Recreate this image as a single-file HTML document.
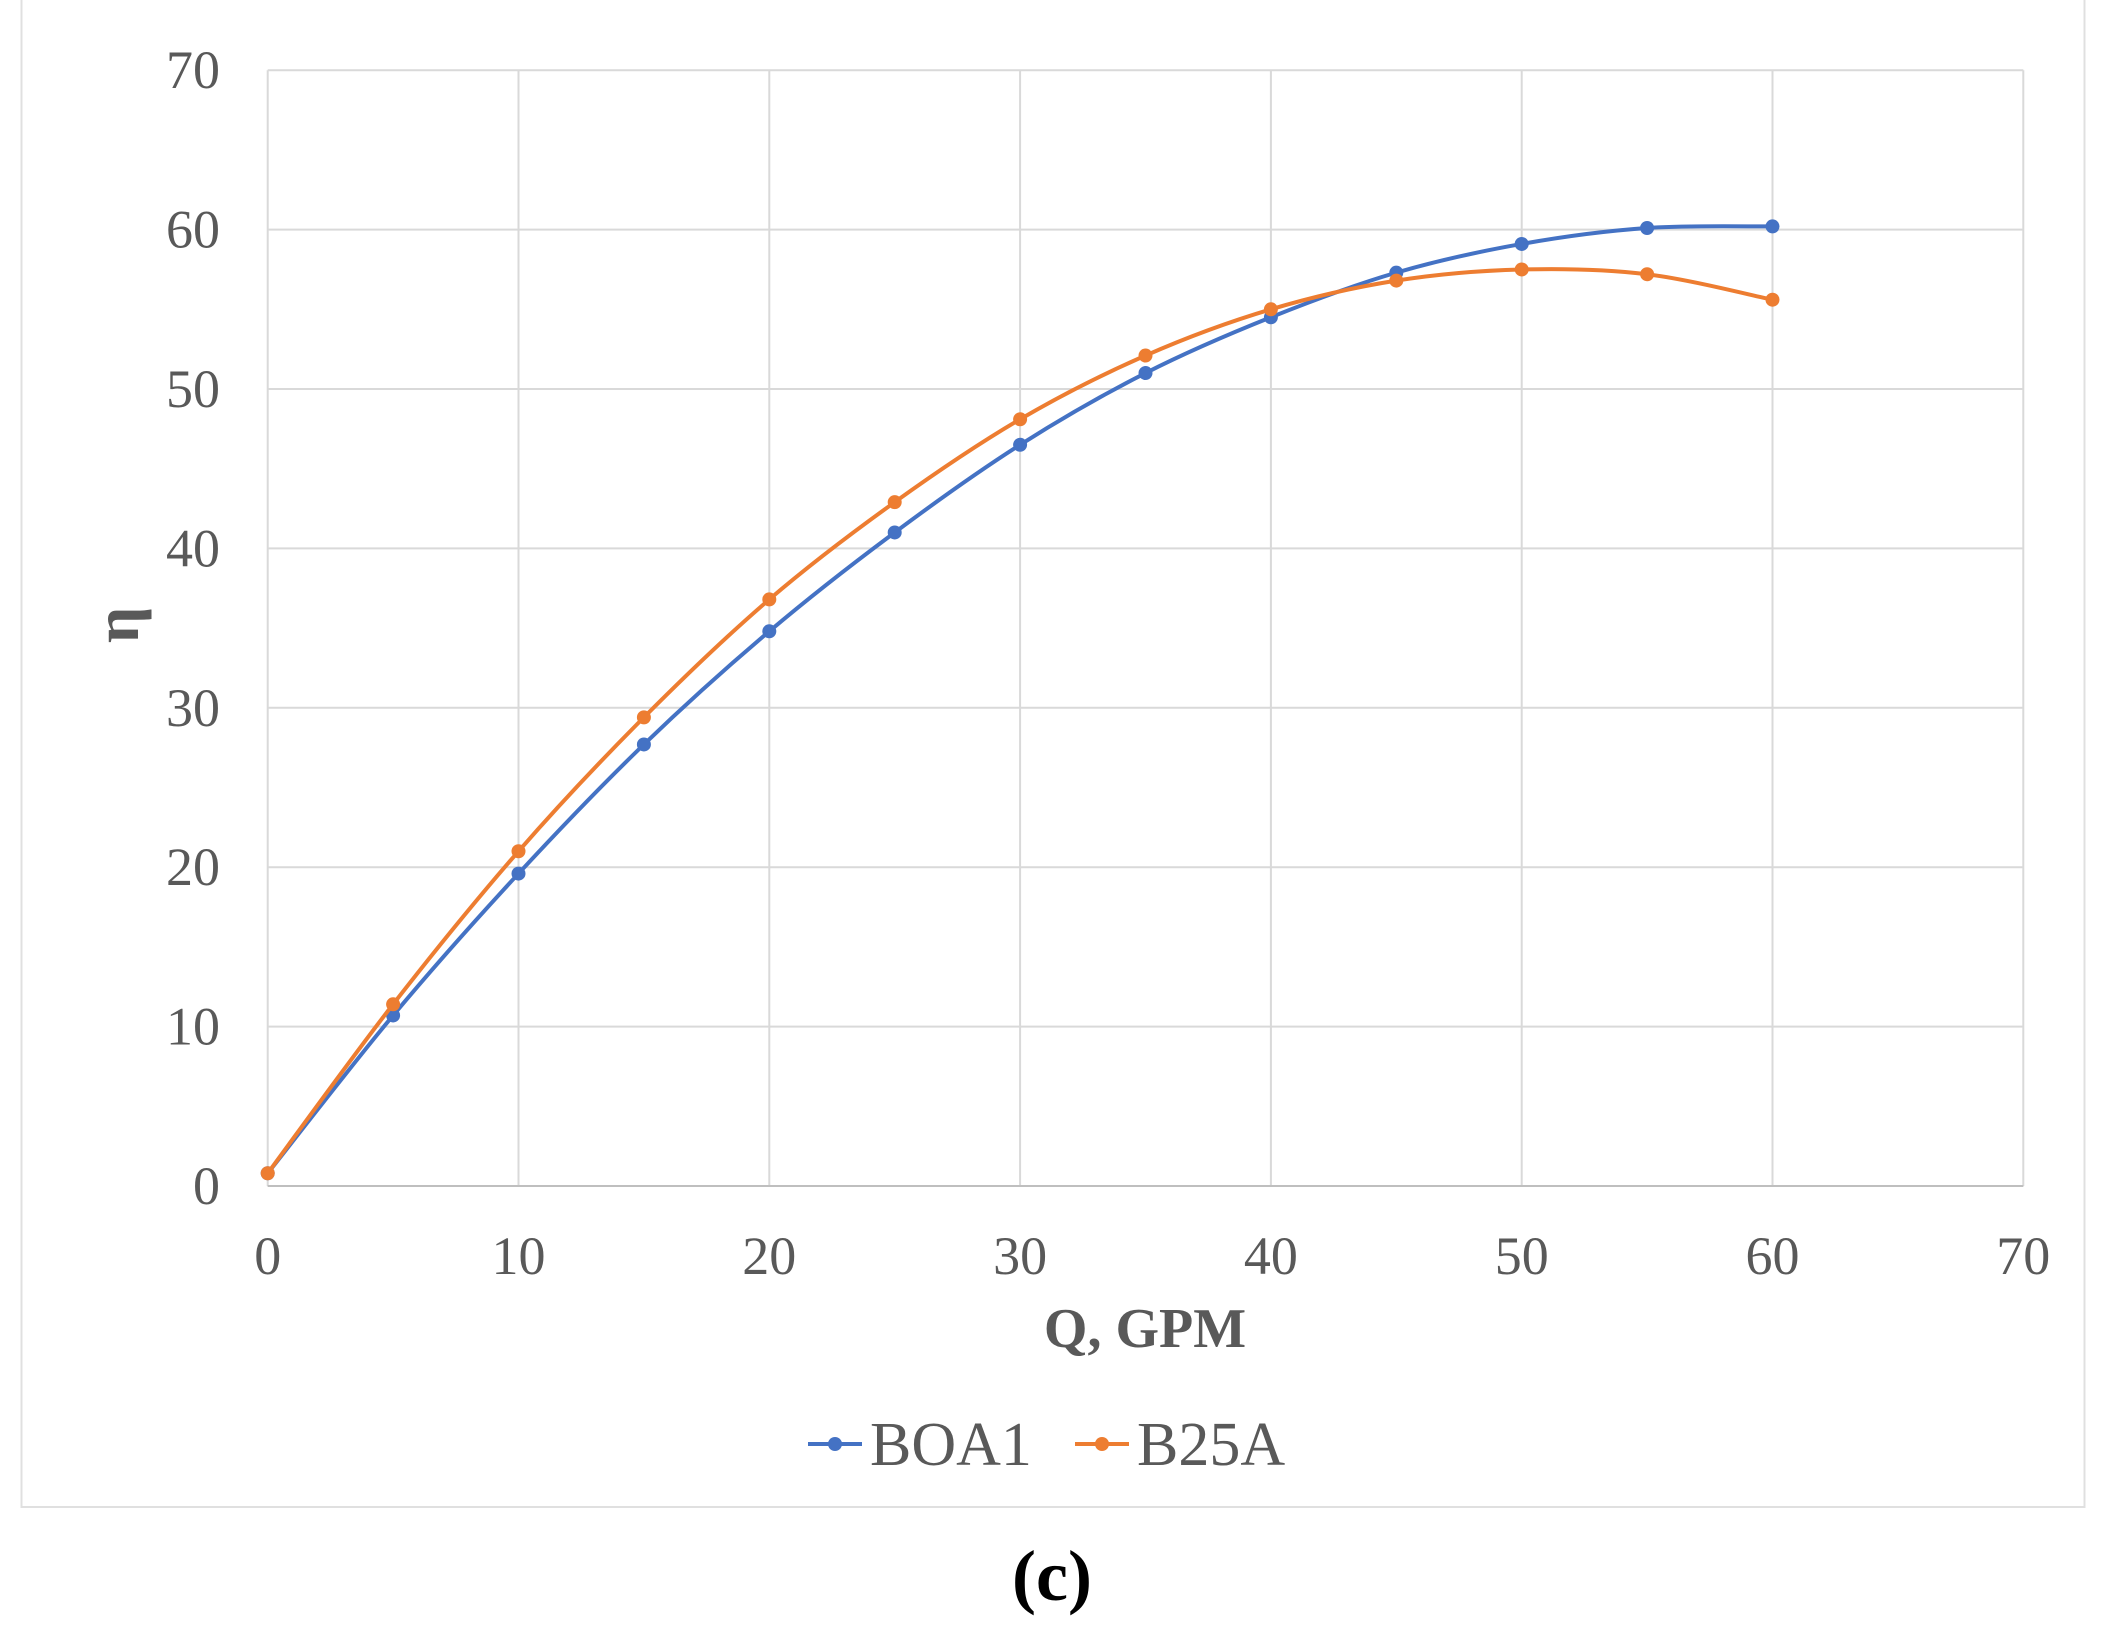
<!DOCTYPE html>
<html><head><meta charset="utf-8"><style>
html,body{margin:0;padding:0;background:#fff;width:2109px;height:1630px;overflow:hidden}
</style></head><body>
<svg id="s" width="2109" height="1630" xmlns="http://www.w3.org/2000/svg" font-family="Liberation Serif, serif">
<rect x="21.5" y="-2" width="2063" height="1509" fill="#fff" stroke="#e0e0e0" stroke-width="2"/>
<g id="grid" stroke="#d9d9d9" stroke-width="2"></g>
<g id="ticks" fill="#595959" font-size="54"></g>
<text x="1145" y="1347" text-anchor="middle" font-size="56" font-weight="bold" fill="#595959">Q, GPM</text>
<text transform="translate(138,625) rotate(-90)" text-anchor="middle" font-size="64" font-weight="bold" fill="#595959">η</text>
<g id="series"></g>
<g font-size="62" fill="#595959">
<line x1="808" y1="1444" x2="862" y2="1444" stroke="#4472c4" stroke-width="4"/><circle cx="835" cy="1444" r="7" fill="#4472c4"/>
<text x="870" y="1465">BOA1</text>
<line x1="1075" y1="1444" x2="1129" y2="1444" stroke="#ed7d31" stroke-width="4"/><circle cx="1102" cy="1444" r="7" fill="#ed7d31"/>
<text x="1137" y="1465">B25A</text>
</g>
<text x="1052" y="1600" text-anchor="middle" font-size="72" font-weight="bold" fill="#000">(c)</text>
</svg>
<script>
var NS="http://www.w3.org/2000/svg";
function X(v){return 267.7+v*25.08}function Y(v){return 1186-v*15.94}
function el(t,a,p){var e=document.createElementNS(NS,t);for(var k in a)e.setAttribute(k,a[k]);p.appendChild(e);return e}
var g=document.getElementById('grid'),tk=document.getElementById('ticks');
for(var i=0;i<=70;i+=10){
 el('line',{x1:X(i),x2:X(i),y1:Y(70),y2:Y(0)},g);
 el('line',{x1:X(0),x2:X(70),y1:Y(i),y2:Y(i)},g);
 var t=el('text',{x:X(i),y:1274,'text-anchor':'middle'},tk);t.textContent=i;
 var u=el('text',{x:220,y:Y(i)+18,'text-anchor':'end'},tk);u.textContent=i;
}
el('line',{x1:X(0),x2:X(70),y1:Y(0),y2:Y(0),stroke:'#bfbfbf','stroke-width':2},g);
var xs=[0,5,10,15,20,25,30,35,40,45,50,55,60];
var A=[0.8,10.7,19.6,27.7,34.8,41,46.5,51,54.5,57.3,59.1,60.1,60.2];
var B=[0.8,11.4,21,29.4,36.8,42.9,48.1,52.1,55,56.8,57.5,57.2,55.6];
var sg=document.getElementById('series');
function draw(d,c){var p=xs.map(function(x,i){return[X(x),Y(d[i])]});
 var s='M'+p[0];for(var i=0;i<p.length-1;i++){var p0=p[i-1]||p[i],p1=p[i],p2=p[i+1],p3=p[i+2]||p2;
 var c1=[p1[0]+(p2[0]-p0[0])/6,p1[1]+(p2[1]-p0[1])/6],c2=[p2[0]-(p3[0]-p1[0])/6,p2[1]-(p3[1]-p1[1])/6];
 s+='C'+c1+' '+c2+' '+p2;}
 el('path',{d:s,fill:'none',stroke:c,'stroke-width':4},sg);
 p.forEach(function(q){el('circle',{cx:q[0],cy:q[1],r:7,fill:c},sg)});}
draw(A,'#4472c4');draw(B,'#ed7d31');
</script>
</body></html>
